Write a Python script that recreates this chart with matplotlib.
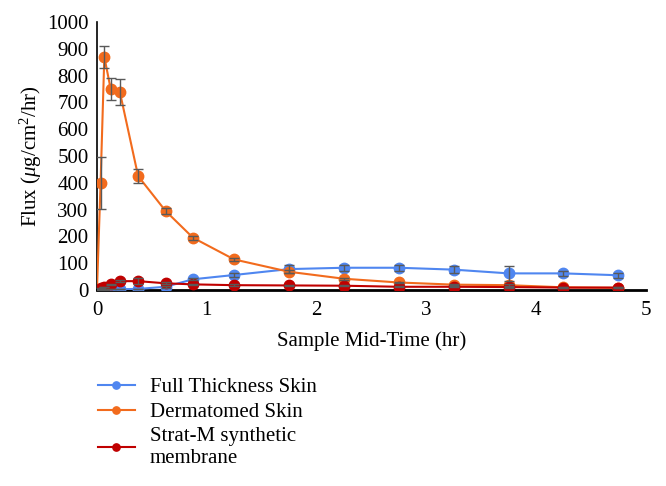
import matplotlib.pyplot as plt

# sample mid-times (hr)
mid_time = [0, 0.033, 0.067, 0.125, 0.208, 0.375, 0.625, 0.875, 1.25, 1.75, 2.25, 2.75, 3.25, 3.75, 4.25, 4.75]

# flux (ug/cm2/hr) and error
full_skin = [0, 0, 1, 2, 3, 4, 12, 40, 56, 78, 83, 83, 76, 62, 62, 55]
full_err = [0, 0, 0, 0, 1, 1, 3, 4, 8, 15, 12, 12, 12, 28, 8, 10]

derm_skin = [0, 400, 870, 750, 740, 425, 295, 195, 114, 68, 42, 28, 20, 18, 10, 8]
derm_err = [0, 97, 42, 42, 48, 27, 12, 8, 5, 5, 4, 3, 3, 3, 2, 2]

stratm = [0, 6, 12, 22, 33, 33, 25, 21, 18, 17, 16, 12, 12, 11, 9, 9]
stratm_err = [0, 1, 1, 2, 3, 10, 4, 3, 3, 3, 2, 2, 2, 2, 2, 2]

labels = ['Full Thickness Skin', 'Dermatomed Skin', 'Strat-M synthetic\nmembrane']
colors = ['#4f86f0', '#f26b1d', '#c00000']

plt.rcParams['font.family'] = 'Liberation Serif'
plt.rcParams['mathtext.fontset'] = 'custom'
plt.rcParams['mathtext.rm'] = 'Liberation Serif'
plt.rcParams['mathtext.it'] = 'Liberation Serif:italic'

fig = plt.figure(figsize=(6.66, 4.86), dpi=100)
ax = fig.add_axes([0.1456, 0.4033, 0.824, 0.5514])

series = [(full_skin, full_err), (derm_skin, derm_err), (stratm, stratm_err)]
handles = []
for (vals, err), lab, c in zip(series, labels, colors):
    h, = ax.plot(mid_time, vals, color=c, lw=1.5, marker='o', ms=7.5,
                 label=lab, zorder=3)
    ax.errorbar(mid_time, vals, yerr=err, fmt='none', ecolor='#595959',
                elinewidth=1, capsize=3.5, capthick=1, zorder=4)
    handles.append(h)

ax.set_xlim(0, 5)
ax.set_ylim(0, 1000)
ax.set_yticks(range(0, 1001, 100))
ax.set_xticks(range(0, 6))
ax.tick_params(length=0, labelsize=15)
ax.tick_params(axis='y', pad=6)
ax.tick_params(axis='x', pad=8)
for s in ['top', 'right']:
    ax.spines[s].set_visible(False)
ax.spines['left'].set_linewidth(1.2)
ax.spines['bottom'].set_linewidth(2)

ax.set_xlabel('Sample Mid-Time (hr)', fontsize=15, labelpad=8)
ax.set_ylabel(r'Flux ($\mu$g/cm$^2$/hr)', fontsize=15, labelpad=2)

leg = fig.legend(handles=handles, loc='upper left', bbox_to_anchor=(0.134, 0.24),
                 frameon=False, fontsize=15, markerscale=0.7, handlelength=1.8,
                 handletextpad=0.7, labelspacing=0.25, borderaxespad=0)

fig.savefig('out.png', dpi=100)
